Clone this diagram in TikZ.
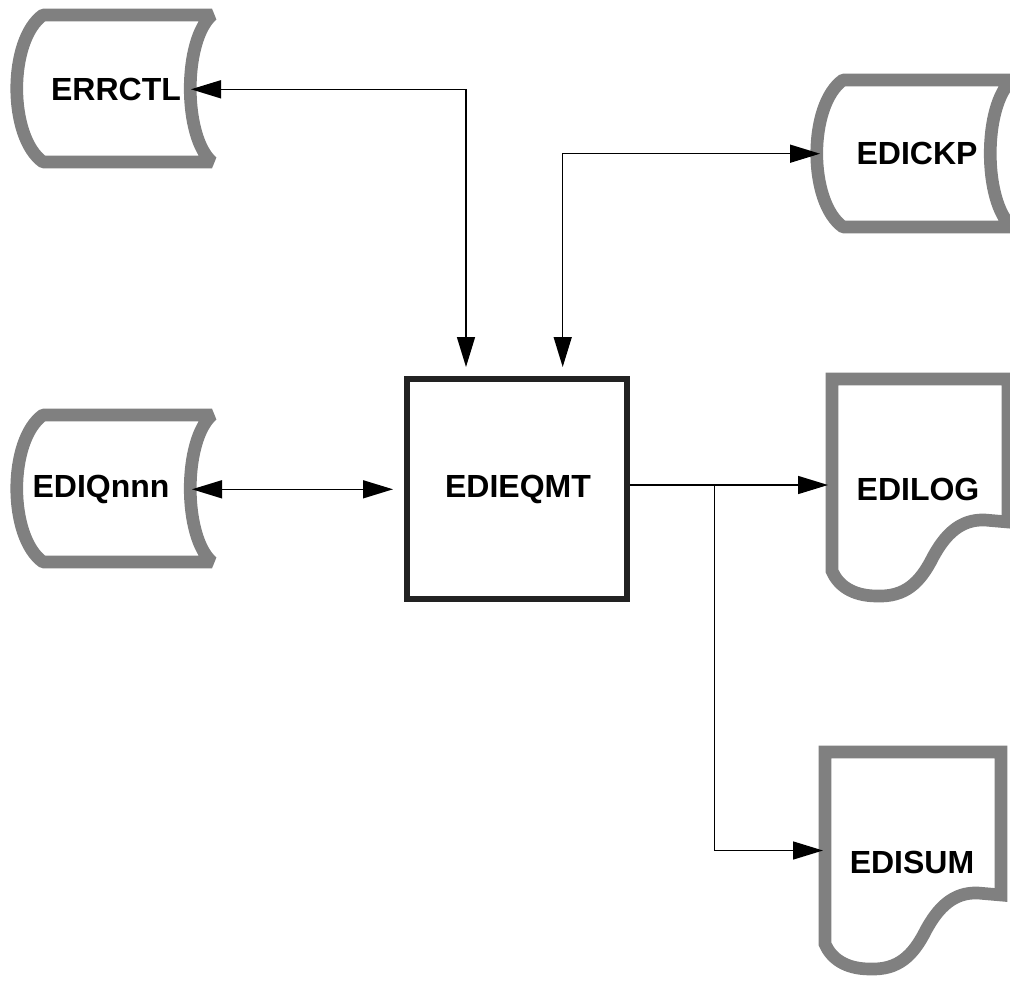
\documentclass[tikz,border=0pt]{standalone}
\usepackage{fontspec}
\setmainfont{Liberation Sans}
\usetikzlibrary{arrows.meta}
\definecolor{shapegray}{HTML}{808080}
\definecolor{boxblack}{HTML}{222222}
\tikzset{
  datastroke/.style={draw=shapegray, line width=9.5pt, line join=bevel, fill=white},
  lbl/.style={font=\fontsize{24}{28}\selectfont\bfseries, inner sep=0pt},
  procbox/.style={draw=boxblack, line width=4pt, fill=white, minimum width=165pt, minimum height=165pt, inner sep=0pt},
  conn/.style={line width=1.1pt, black, arrows={-}},
  tipA/.style={>={Triangle[length=22.5pt,width=13.5pt]}},
  storepic/.pic={
    \path[datastroke] (0,0) -- (169,0) .. controls (140,25) and (140,122) .. (169,147)
      -- (0,147) .. controls (-35,122) and (-35,25) .. (0,0) -- cycle;
  },
  docpic/.pic={
    \path[datastroke, line join=miter] (0,192) -- (0,0) -- (176,0) -- (176,143) -- (153,141)
      .. controls (128,140) and (113,156) .. (101,178)
      .. controls (88,204) and (73,218) .. (45,217)
      .. controls (20,217) and (6,206) .. (0,192) -- cycle;
  }
}
\begin{document}
\begin{tikzpicture}[x=0.75pt,y=-0.75pt]
\useasboundingbox[fill=white] (0,0) rectangle (1010,981);

% shapes
\pic at (43,15) {storepic};
\pic at (843,80) {storepic};
\pic at (43,415) {storepic};
\pic at (832,379) {docpic};
\pic at (825,752) {docpic};

% labels
\node[lbl] (errctl) at (116,89) {ERRCTL};
\node[lbl] (edickp) at (917,153) {EDICKP};
\node[lbl] (ediq) at (101,489) {EDIQnnn};
\node[procbox] (eqmt) at (517,489) {};
\node[lbl] (eqmtl) at (518,489) {EDIEQMT};
\node[lbl] (edilog) at (918,489) {EDILOG};
\node[lbl] (edisum) at (912,862) {EDISUM};

% connector end points
\coordinate (errctl-e) at (191,89.3);
\coordinate (eqmt-n1) at (466,367);
\coordinate (eqmt-n2) at (562.7,367);
\coordinate (edickp-w) at (820,153.7);
\coordinate (ediq-e) at (192,489.3);
\coordinate (eqmt-w) at (393,489.3);
\coordinate (eqmt-e) at (630,485);
\coordinate (branch) at (714.7,485);
\coordinate (edilog-w) at (828,485);
\coordinate (edisum-w) at (823,850.5);

% connectors
\draw[conn,tipA,<->] (errctl-e) -| (eqmt-n1);
\draw[conn,tipA,<->] (eqmt-n2) |- (edickp-w);
\draw[conn,tipA,<->] (ediq-e) -- (eqmt-w);
\draw[conn,tipA,->] (eqmt-e) -- (edilog-w);
\draw[conn,tipA,->] (branch) |- (edisum-w);
\end{tikzpicture}
\end{document}
